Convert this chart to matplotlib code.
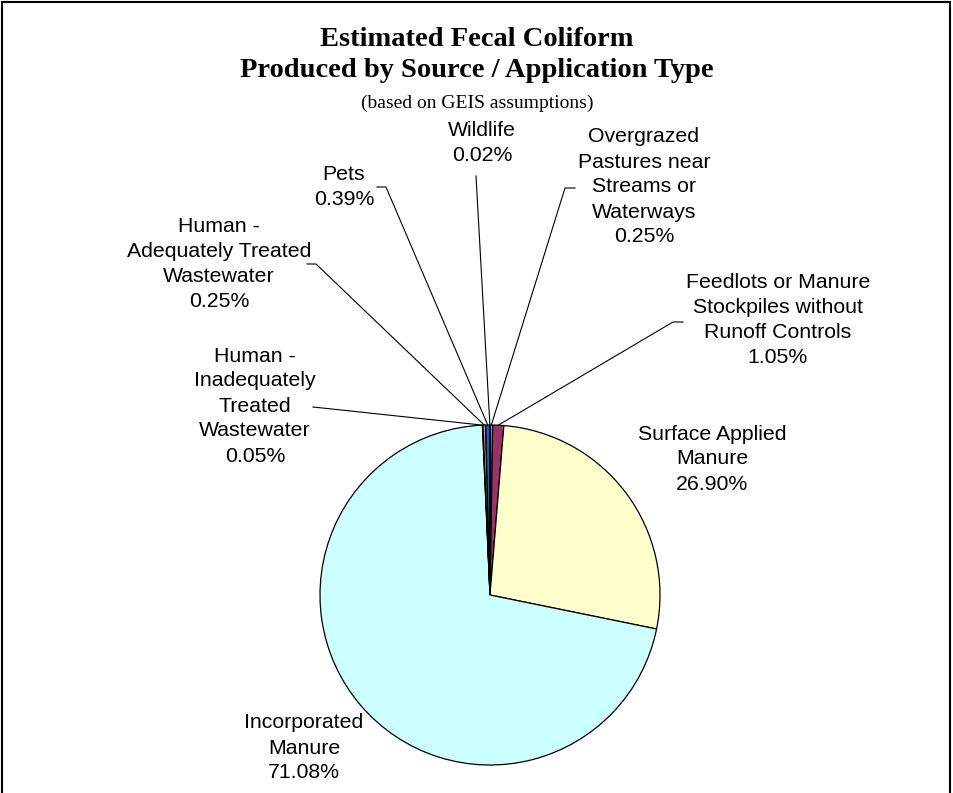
import numpy as np
import matplotlib.pyplot as plt
from matplotlib.lines import Line2D
from matplotlib.patches import Rectangle

# data, clockwise from 12 o'clock
sources = ['Overgrazed\nPastures near\nStreams or\nWaterways',
           'Feedlots or Manure\nStockpiles without\nRunoff Controls',
           'Surface Applied\nManure',
           'Incorporated\nManure',
           'Human -\nInadequately\nTreated\nWastewater',
           'Human -\nAdequately Treated\nWastewater',
           'Pets',
           'Wildlife']
shares = [0.25, 1.05, 26.90, 71.08, 0.05, 0.25, 0.39, 0.02]
colors = ['#9999FF', '#993366', '#FFFFCC', '#CCFFFF', '#660066', '#FF8080', '#0066CC', '#CCCCFF']

# label layout in pixels (text centre, leader start, optional elbow)
label_pos = [(644, 187), (778, 320), (712, 459), (304, 748),
             (255, 406), (219, 264), (344, 187), (482, 143)]
leader = [[(575, 188), (565, 188)],
          [(683, 322), (673, 322)],
          None,
          None,
          [(313, 407)],
          [(307, 264), (316, 264)],
          [(377, 187), (386, 187)],
          [(476, 176)]]

W, H = 954, 793
fig = plt.figure(figsize=(W / 100, H / 100), dpi=100)


def fx(px):
    return px / W


def fy(py):
    return 1 - py / H


# frame around chart area
fig.add_artist(Rectangle((fx(2), fy(H + 10)), fx(948), (H + 8) / H, transform=fig.transFigure,
                         fill=False, edgecolor='black', linewidth=1.5))

# pie: centre (490, 595), radius 170 px
ax = fig.add_axes([fx(320), fy(765), 340 / W, 340 / H])
wedges, _ = ax.pie(shares, colors=colors, startangle=90, counterclock=False,
                   wedgeprops=dict(edgecolor='black', linewidth=0.9))
ax.set_xlim(-1, 1)
ax.set_ylim(-1, 1)
ax.set_aspect('equal')

font = dict(family=['Liberation Sans', 'DejaVu Sans'], size=15.3)
for i, (name, val) in enumerate(zip(sources, shares)):
    x, y = label_pos[i]
    fig.text(fx(x), fy(y), name + '\n' + '{:.2f}%'.format(val), ha='center', va='center',
             multialignment='center', linespacing=1.4, **font)
    if leader[i] is None:
        continue
    w = wedges[i]
    mid = np.deg2rad((w.theta1 + w.theta2) / 2)
    px, py = ax.transData.transform((np.cos(mid), np.sin(mid)))
    pts = [(fx(a), fy(b)) for a, b in leader[i]]
    pts.append((px / W, py / H))
    xs, ys = zip(*pts)
    fig.add_artist(Line2D(xs, ys, transform=fig.transFigure, color='black', linewidth=0.8))

serif = ['Liberation Serif', 'DejaVu Serif']
fig.text(fx(477), fy(46), 'Estimated Fecal Coliform', ha='center', va='baseline',
         family=serif, weight='bold', size=20.5)
fig.text(fx(477), fy(77), 'Produced by Source / Application Type', ha='center', va='baseline',
         family=serif, weight='bold', size=20.5)
fig.text(fx(477), fy(108), '(based on GEIS assumptions)', ha='center', va='baseline',
         family=serif, size=14)

fig.savefig('out.png', dpi=100)
